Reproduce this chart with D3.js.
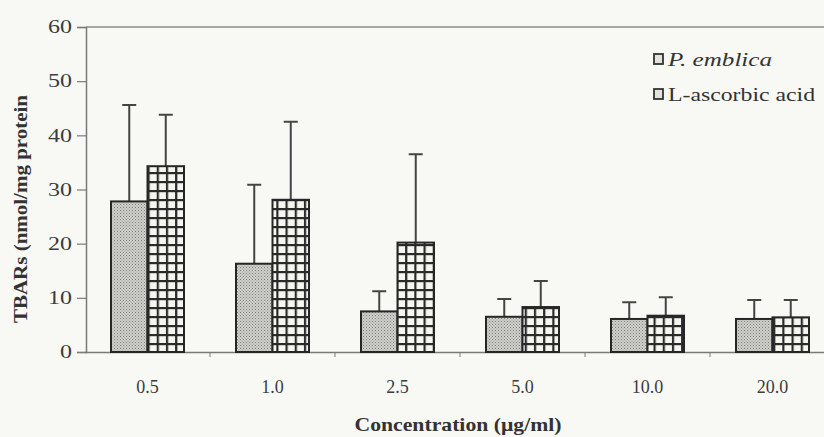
<!DOCTYPE html>
<html>
<head>
<meta charset="UTF-8">
<title>TBARs</title>
<script src="https://cdn.jsdelivr.net/npm/d3@7"></script>
<style>
  body { margin: 0; background: #f8f8f5; }
  svg { display: block; font-family: "Liberation Serif", "DejaVu Serif", serif; }
</style>
</head>
<body>
<svg width="824" height="437"></svg>
<script>
// data
var concentrations = ["0.5", "1.0", "2.5", "5.0", "10.0", "20.0"];
var seriesNames = ["P. emblica", "L-ascorbic acid"];
var emblicaMean = [27.8, 16.3, 7.5, 6.5, 6.1, 6.1];
var emblicaSD   = [17.8, 14.6, 3.7, 3.3, 3.1, 3.5];
var ascorbicMean = [34.3, 28.1, 20.2, 8.3, 6.7, 6.4];
var ascorbicSD   = [9.5, 14.4, 16.3, 4.8, 3.4, 3.2];
var yTicks = [0, 10, 20, 30, 40, 50, 60];

var svg = d3.select("svg");
var plotLeft = 86, plotTop = 27, plotBottom = 352, plotRight = 835;

var x = d3.scaleBand().domain(concentrations).range([plotLeft - 1, plotRight]);
var sub = d3.scaleBand().domain(seriesNames).range([26, x.bandwidth() - 26]);
var y = d3.scaleLinear().domain([0, 60]).range([plotBottom, plotTop]);

// patterns
var defs = svg.append("defs");
var dots = defs.append("pattern").attr("id", "dots")
  .attr("patternUnits", "userSpaceOnUse").attr("width", 3).attr("height", 3);
dots.append("rect").attr("width", 3).attr("height", 3).attr("fill", "#cfcfcb");
dots.append("rect").attr("width", 1).attr("height", 1).attr("fill", "#7c7c78");
dots.append("rect").attr("x", 1.5).attr("y", 1.5).attr("width", 1).attr("height", 1).attr("fill", "#96968f");

var grid = defs.append("pattern").attr("id", "grid")
  .attr("patternUnits", "userSpaceOnUse").attr("width", 9.2).attr("height", 9)
  .attr("x", sub("L-ascorbic acid") + x("0.5")).attr("y", plotBottom);
grid.append("rect").attr("width", 9.2).attr("height", 9).attr("fill", "#f6f6f0");
grid.append("rect").attr("width", 2.2).attr("height", 9).attr("fill", "#2a2a2a");
grid.append("rect").attr("width", 9.2).attr("height", 2.2).attr("fill", "#2a2a2a");

// frame line on top
svg.append("line").attr("x1", plotLeft).attr("x2", 824).attr("y1", plotTop).attr("y2", plotTop)
  .attr("stroke", "#8c8c8c").attr("stroke-width", 1.5);

// y axis
var yAxis = svg.append("g").attr("transform", "translate(" + plotLeft + ",0)")
  .call(d3.axisLeft(y).tickValues(yTicks).tickSize(9).tickPadding(5));
yAxis.select(".domain").attr("stroke", "#7a7a7a").attr("stroke-width", 1.5);
yAxis.selectAll(".tick line").attr("stroke", "#7a7a7a").attr("stroke-width", 1.2);
yAxis.selectAll("text").attr("font-size", 18).attr("fill", "#3c3c3c")
  .attr("font-family", "Liberation Serif, serif")
  .attr("textLength", 24).attr("lengthAdjust", "spacingAndGlyphs");
yAxis.selectAll(".tick").filter(function(d) { return d === 0; }).select("text")
  .attr("textLength", 12);

// x axis
var xAxis = svg.append("g").attr("transform", "translate(0," + plotBottom + ")")
  .call(d3.axisBottom(x).tickSize(0).tickPadding(28));
xAxis.select(".domain").attr("stroke", "#7a7a7a").attr("stroke-width", 1.5);
xAxis.selectAll("text").attr("font-size", 18).attr("fill", "#3c3c3c")
  .attr("font-family", "Liberation Serif, serif");
// small ticks between groups
xAxis.selectAll(".sep").data(concentrations.slice(1)).enter().append("line")
  .attr("x1", function(d) { return x(d); }).attr("x2", function(d) { return x(d); })
  .attr("y1", 0).attr("y2", 5).attr("stroke", "#7a7a7a");

var series = [
  { name: seriesNames[0], mean: emblicaMean, sd: emblicaSD, fill: "url(#dots)" },
  { name: seriesNames[1], mean: ascorbicMean, sd: ascorbicSD, fill: "url(#grid)" }
];

series.forEach(function(s) {
  var g = svg.append("g");
  var rows = concentrations.map(function(c, i) { return { c: c, m: s.mean[i], sd: s.sd[i] }; });
  // error bars (upper only)
  g.selectAll(".err").data(rows).enter().append("path")
    .attr("d", function(d) {
      var cx = x(d.c) + sub(s.name) + sub.bandwidth() / 2;
      var t = y(d.m + d.sd);
      return "M" + cx + "," + y(d.m) + "V" + t + "M" + (cx - 7) + "," + t + "H" + (cx + 7);
    })
    .attr("stroke", "#444").attr("stroke-width", 2).attr("fill", "none");
  g.selectAll("rect").data(rows).enter().append("rect")
    .attr("x", function(d) { return x(d.c) + sub(s.name); })
    .attr("y", function(d) { return y(d.m); })
    .attr("width", sub.bandwidth())
    .attr("height", function(d) { return plotBottom - y(d.m); })
    .attr("fill", s.fill)
    .attr("stroke", "#262626").attr("stroke-width", 2);
});

// legend
var legendWidths = [104, 147];
var legend = svg.append("g").attr("transform", "translate(654,54)");
seriesNames.forEach(function(n, i) {
  var row = legend.append("g").attr("transform", "translate(0," + i * 35 + ")");
  row.append("rect").attr("width", 9).attr("height", 10)
    .attr("fill", "#e2e2de").attr("stroke", "#333").attr("stroke-width", 1.8);
  row.append("text").attr("x", 14).attr("y", 12).text(n)
    .attr("font-size", 18).attr("fill", "#333")
    .attr("textLength", legendWidths[i]).attr("lengthAdjust", "spacingAndGlyphs")
    .attr("font-style", i === 0 ? "italic" : "normal");
});

// axis titles
svg.append("text").attr("transform", "translate(27,323) rotate(-90)")
  .attr("font-size", 19).attr("font-weight", "bold").attr("fill", "#333")
  .attr("textLength", 228).attr("lengthAdjust", "spacingAndGlyphs")
  .text("TBARs (nmol/mg protein");
svg.append("text").attr("x", 458).attr("y", 431).attr("text-anchor", "middle")
  .attr("font-size", 19).attr("font-weight", "bold").attr("fill", "#333")
  .attr("textLength", 207).attr("lengthAdjust", "spacingAndGlyphs")
  .text("Concentration (\u03bcg/ml)");
</script>
</body>
</html>
